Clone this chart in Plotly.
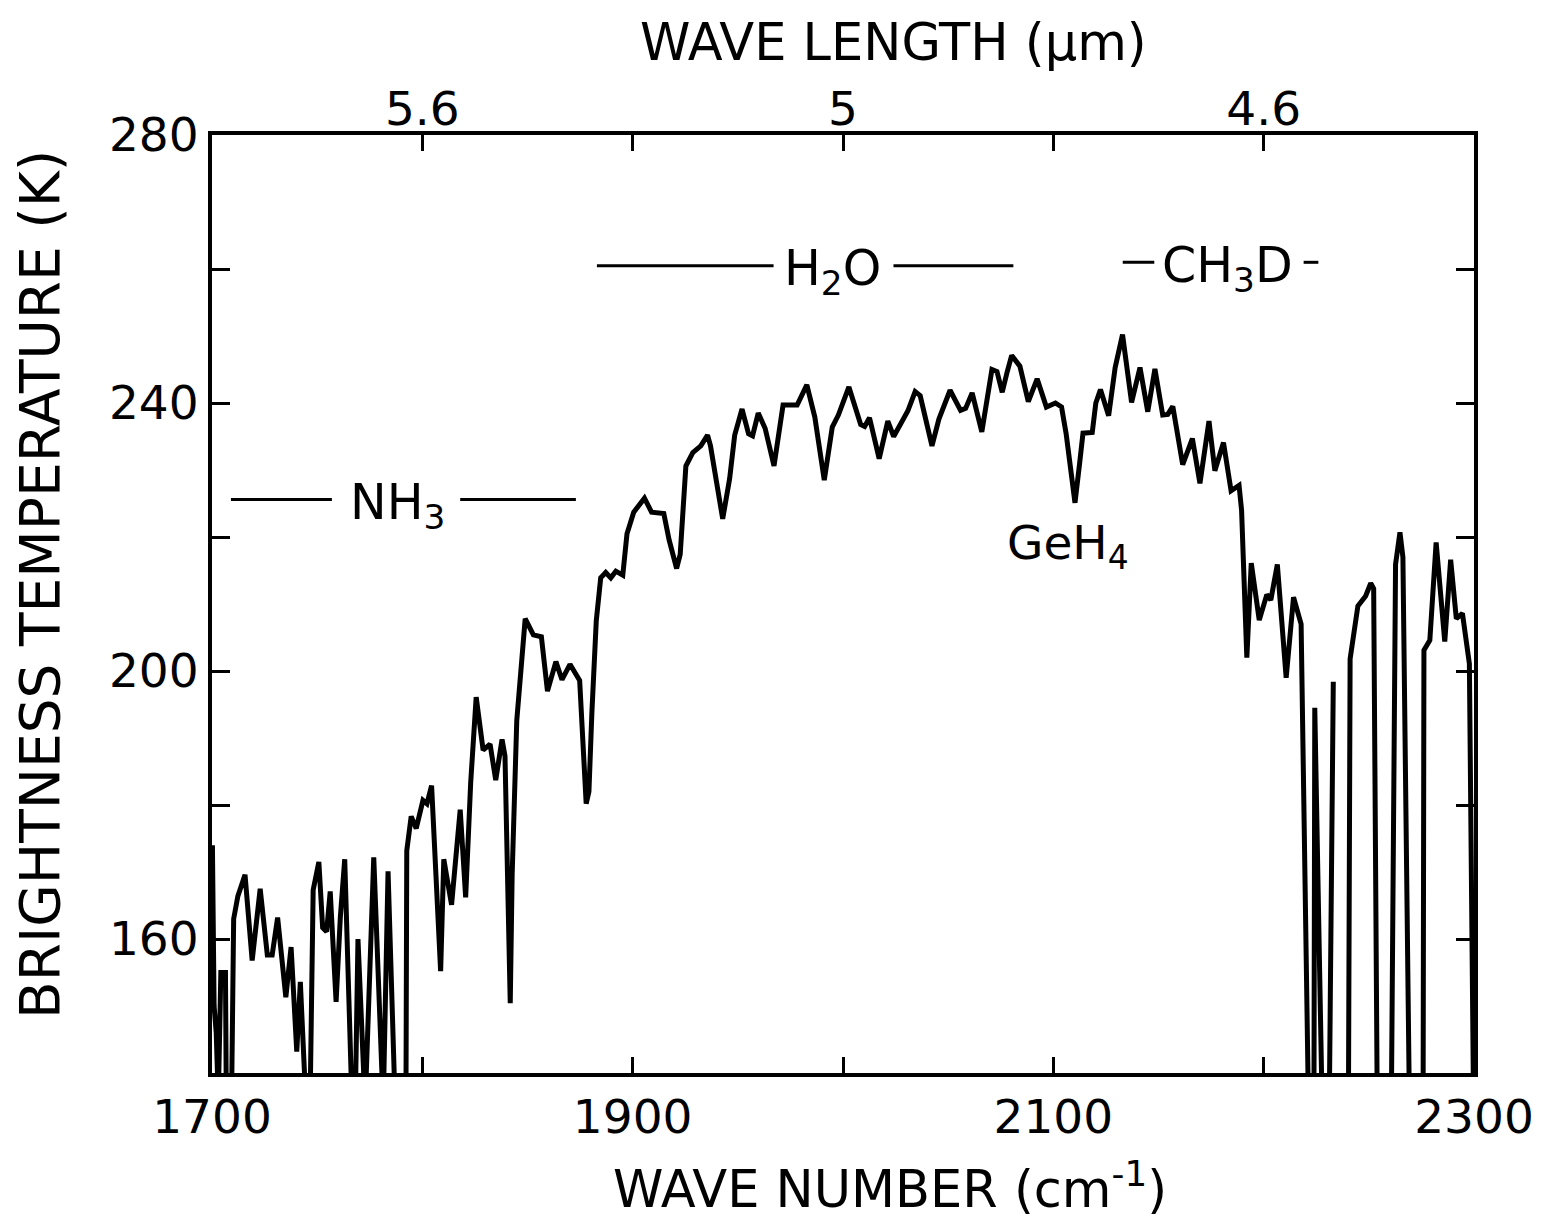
import plotly.graph_objects as go

# ---- data (wave number in cm^-1, brightness temperature in K)
wavenumber = [
    1700.2, 1701.0, 1702.0, 1703.0, 1704.2, 1706.4, 1706.8, 1709.3, 1710.3, 1712.3,
    1715.7, 1719.1, 1722.9, 1726.3, 1728.6, 1731.2, 1735.1, 1737.6, 1740.3, 1742.0,
    1744.7, 1746.6, 1748.1, 1750.8, 1752.6, 1754.5, 1756.2, 1759.0, 1761.0, 1763.1,
    1766.6, 1768.1, 1769.4, 1772.8, 1776.9, 1781.4, 1783.7, 1787.1, 1792.2, 1792.6,
    1794.7, 1797.1, 1800.3, 1802.2, 1804.4, 1808.7, 1810.2, 1813.9, 1818.0, 1820.6,
    1823.0, 1825.6, 1828.9, 1832.2, 1834.9, 1837.9, 1839.3, 1841.8, 1842.7, 1844.9,
    1848.9, 1852.8, 1856.6, 1859.5, 1863.5, 1866.4, 1870.2, 1873.0, 1874.8, 1877.9,
    1879.2, 1880.6, 1882.7, 1884.8, 1887.2, 1889.6, 1892.0, 1895.3, 1897.3, 1900.5,
    1905.6, 1909.0, 1914.8, 1917.3, 1920.9, 1922.6, 1925.3, 1928.6, 1932.4, 1935.6,
    1937.0, 1942.8, 1946.1, 1948.5, 1952.0, 1955.1, 1957.0, 1959.7, 1963.0, 1967.2,
    1969.0, 1971.5, 1978.2, 1982.8, 1986.6, 1991.1, 1994.9, 1997.8, 2002.8, 2008.4,
    2010.3, 2012.6, 2017.2, 2021.3, 2024.1, 2028.4, 2030.8, 2034.3, 2036.7, 2042.3,
    2045.6, 2050.9, 2055.9, 2058.3, 2061.4, 2066.0, 2068.8, 2070.8, 2073.2, 2075.7,
    2078.1, 2080.2, 2084.1, 2088.1, 2092.3, 2096.7, 2101.0, 2103.9, 2106.1, 2110.3,
    2112.5, 2114.1, 2118.5, 2120.2, 2122.4, 2126.3, 2129.4, 2132.9, 2137.2, 2141.2,
    2144.9, 2148.3, 2152.0, 2154.4, 2156.8, 2161.5, 2166.1, 2169.7, 2174.0, 2176.8,
    2180.9, 2184.5, 2188.3, 2189.5, 2192.0, 2194.1, 2197.9, 2201.5, 2203.4, 2206.5,
    2210.7, 2214.2, 2217.8, 2221.3, 2223.9, 2224.3, 2227.8, 2231.2, 2233.1, None,
    2240.3, 2241.1, 2244.8, 2248.5, 2250.9, 2252.3, 2254.0, 2260.7, 2262.7, 2264.8,
    2266.2, 2269.3, 2275.8, 2276.2, 2279.0, 2282.0, 2286.1, 2288.9, 2291.6, 2294.5,
    2297.8, 2299.8,
]
brightness_temp = [
    174.0, 150.0, 146.0, 136.0, 155.0, 155.0, 136.0, 136.0, 163.0, 166.4,
    169.6, 156.8, 167.5, 157.6, 157.6, 163.2, 151.3, 158.8, 143.2, 153.6,
    135.0, 135.0, 167.3, 171.5, 161.7, 161.1, 167.1, 150.6, 163.2, 171.9,
    135.0, 135.0, 160.0, 135.0, 172.2, 135.0, 170.1, 135.0, 135.0, 173.2,
    178.3, 176.5, 180.7, 180.2, 182.9, 155.2, 171.9, 165.1, 179.3, 166.2,
    183.4, 196.1, 188.2, 189.1, 183.7, 189.8, 187.3, 150.4, 169.6, 192.6,
    207.8, 205.4, 205.1, 197.0, 201.4, 198.7, 201.0, 199.6, 198.6, 180.2,
    182.0, 193.7, 207.5, 213.9, 214.7, 213.9, 214.9, 214.3, 220.5, 223.7,
    225.8, 223.7, 223.5, 219.6, 215.3, 217.4, 230.6, 232.6, 233.6, 235.2,
    233.6, 222.7, 228.7, 235.2, 239.1, 235.4, 235.1, 238.5, 236.2, 230.6,
    234.0, 239.7, 239.7, 242.7, 237.9, 228.5, 236.4, 238.2, 242.4, 236.8,
    236.5, 237.8, 231.7, 237.3, 235.0, 237.3, 238.8, 241.7, 241.1, 233.6,
    237.6, 241.9, 238.9, 239.2, 241.5, 235.7, 241.2, 245.0, 244.7, 241.6,
    244.7, 247.1, 245.5, 240.2, 243.6, 239.4, 240.0, 239.4, 235.4, 225.1,
    231.0, 235.5, 235.6, 240.0, 242.0, 238.1, 245.3, 250.2, 240.1, 245.3,
    238.7, 245.1, 238.2, 238.3, 239.5, 230.8, 234.7, 228.0, 237.3, 229.9,
    234.1, 226.9, 227.7, 224.0, 202.0, 216.1, 207.6, 211.4, 210.6, 215.9,
    199.0, 211.0, 207.0, 135.0, 135.0, 194.5, 135.0, 135.0, 198.4, None,
    135.0, 201.8, 209.7, 211.2, 213.1, 212.3, 135.0, 135.0, 215.9, 220.7,
    217.0, 135.0, 135.0, 203.1, 204.6, 219.2, 204.4, 216.6, 207.8, 208.6,
    201.1, 135.0,
]

# axis ticks (labelled ticks; unlabelled ticks are drawn as minor ticks)
x_tickvals = [1700, 1900, 2100, 2300]
x_ticktext = ["1700", "1900", "2100", "2300"]
top_tickvals = [1800, 2000, 2200]
top_ticktext = ["5.6", "5", "4.6"]
y_tickvals = [160, 200, 240, 280]
y_ticktext = ["160", "200", "240", "280"]

# absorber band labels: name, left bar, right bar, temperature level, label centre
band_names = ["NH<sub>3</sub>", "H<sub>2</sub>O", "CH<sub>3</sub>D"]
band_left_bar = [(1709, 1757), (1883, 1967), (2133, 2148)]
band_right_bar = [(1818, 1873), (2024, 2081), (2219, 2226)]
band_level = [225.6, 260.5, 261.0]
band_label_x = [1788, 1995, 2183]
geh4_label = ("GeH<sub>4</sub>", 2107, 218.6)

FONT = "DejaVu Sans"
fig = go.Figure()

fig.add_trace(go.Scatter(
    x=wavenumber, y=brightness_temp, mode="lines",
    line=dict(color="black", width=5), connectgaps=False,
    showlegend=False, hoverinfo="skip",
))

for (l0, l1), (r0, r1), lev in zip(band_left_bar, band_right_bar, band_level):
    fig.add_trace(go.Scatter(
        x=[l0, l1, None, r0, r1], y=[lev, lev, None, lev, lev],
        mode="lines", line=dict(color="black", width=3),
        xaxis="x2", showlegend=False, hoverinfo="skip",
    ))

for name, xc, lev in zip(band_names, band_label_x, band_level):
    fig.add_annotation(x=xc, y=lev, text=name, showarrow=False, xref="x", yref="y",
                       font=dict(family=FONT, size=49, color="black"),
                       xanchor="center", yanchor="middle", yshift=-6)

fig.add_annotation(x=geh4_label[1], y=geh4_label[2], text=geh4_label[0], showarrow=False,
                   xref="x", yref="y", font=dict(family=FONT, size=47, color="black"),
                   xanchor="center", yanchor="middle")

L, R, T, B = 212, 1474, 135, 1073
W, H = 1565, 1225
pw, ph = R - L, B - T


def px(xp):
    return (xp - L) / pw


def py(yp):
    return (B - yp) / ph


fig.add_annotation(x=px(893), y=py(42), xref="paper", yref="paper", showarrow=False,
                   text="WAVE LENGTH (μm)", font=dict(family=FONT, size=51, color="black"),
                   xanchor="center", yanchor="middle")
fig.add_annotation(x=px(890), y=py(1186), xref="paper", yref="paper", showarrow=False,
                   text="WAVE NUMBER (cm<sup>-1</sup>)", font=dict(family=FONT, size=51, color="black"),
                   xanchor="center", yanchor="middle")
fig.add_annotation(x=px(40), y=py(585), xref="paper", yref="paper", showarrow=False,
                   text="BRIGHTNESS TEMPERATURE (K)", textangle=-90,
                   font=dict(family=FONT, size=55, color="black"),
                   xanchor="center", yanchor="middle")

axis_common = dict(showgrid=False, zeroline=False, linecolor="black", linewidth=4,
                   ticks="inside", tickcolor="black", tickwidth=3,
                   tickfont=dict(family=FONT, size=47, color="black"))
minor_x = dict(ticks="inside", ticklen=16, tickwidth=3, tickcolor="black",
               tick0=1700, dtick=100, showgrid=False)
minor_y = dict(ticks="inside", ticklen=18, tickwidth=3, tickcolor="black",
               tick0=140, dtick=20, showgrid=False)

fig.update_layout(
    width=W, height=H,
    margin=dict(l=L, r=W - R, t=T, b=H - B),
    paper_bgcolor="white", plot_bgcolor="white",
    xaxis=dict(range=[1700, 2300], tickvals=x_tickvals, ticktext=x_ticktext,
               showline=True, mirror=True, ticklen=16, minor=minor_x, **axis_common),
    xaxis2=dict(range=[1700, 2300], overlaying="x", side="top",
                tickvals=top_tickvals, ticktext=top_ticktext,
                showline=False, ticklen=16, minor=minor_x, **axis_common),
    yaxis=dict(range=[140, 280], tickvals=y_tickvals, ticktext=y_ticktext,
               showline=True, mirror="ticks", ticklen=18, minor=minor_y, **axis_common),
)

fig.write_html("out.html")
